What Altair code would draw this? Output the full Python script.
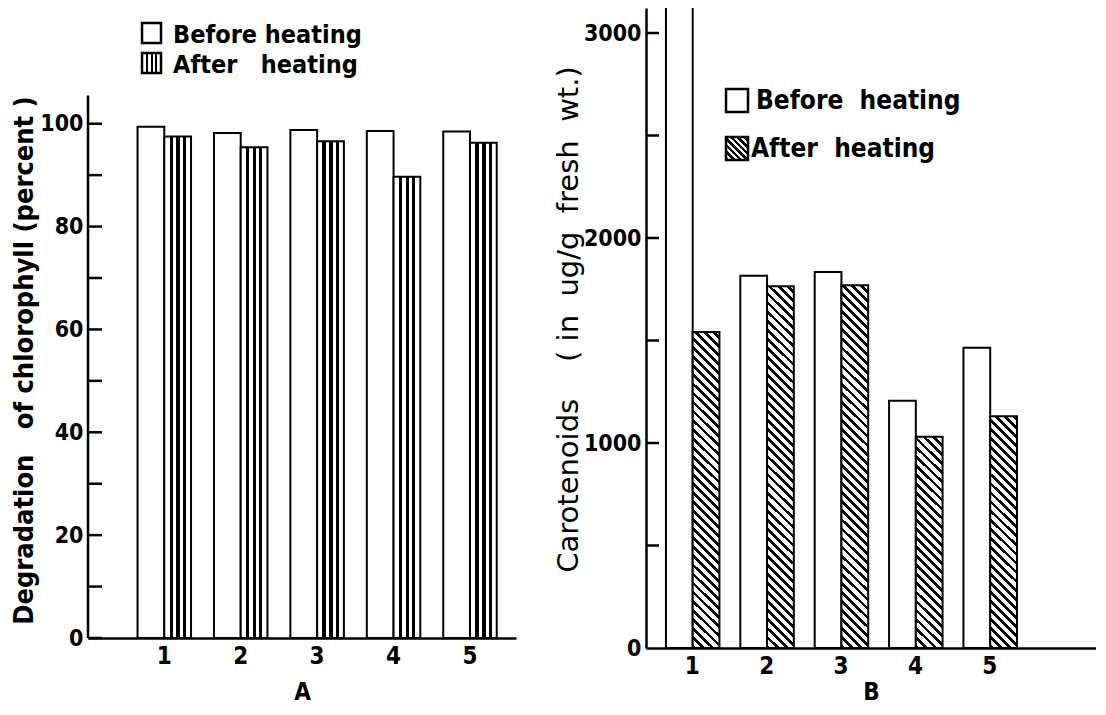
import math
import altair as alt

# ---------------- data ----------------
categories = ["1", "2", "3", "4", "5"]
series = ["Before heating", "After heating"]

# Panel A: degradation of chlorophyll (percent)
chl_before = [99.4, 98.2, 98.8, 98.6, 98.5]
chl_after = [97.5, 95.4, 96.6, 89.7, 96.3]
chl_tick_values = [0, 10, 20, 30, 40, 50, 60, 70, 80, 90, 100]
chl_label_values = [0, 20, 40, 60, 80, 100]
chl_axis_top = 105.5
chl_domain_max = 122.5

# Panel B: carotenoids (ug/g fresh wt.) - first "before" bar runs off the top
car_before = [3400, 1816, 1834, 1206, 1465]
car_after = [1541, 1765, 1769, 1030, 1130]
car_tick_values = [500, 1000, 1500, 2000, 2500, 3000]
car_label_values = [0, 1000, 2000, 3000]
car_domain_max = 3122

NB = "\u00a0"
title_a = f"Degradation{NB}{NB} of chlorophyll (percent )"
title_b = f"Carotenoids{NB * 4}({NB}in{NB * 2}ug/g{NB * 2}fresh{NB * 2}wt.)"

# ---------------- layout ----------------
WA, HA = 428, 630
WB, HB = 450, 640
A_PI, A_PO, A_AL = 0.30, 0.45, 0.72
B_PI, B_PO, B_AL = 0.29, 0.67, 0.20
FONT = "'Liberation Sans Narrow', 'DejaVu Sans Condensed', 'DejaVu Sans'"
FONT_WIDE = "DejaVu Sans"


def vstripes():
    stops = [(0.0, "white"), (0.20, "white"), (0.20, "black"), (0.32, "black"), (0.32, "white"),
             (0.45, "white"), (0.45, "black"), (0.58, "black"), (0.58, "white"),
             (0.70, "white"), (0.70, "black"), (0.81, "black"), (0.81, "white"), (1.0, "white")]
    return {"gradient": "linear", "x1": 0, "y1": 0, "x2": 1, "y2": 0,
            "stops": [{"offset": o, "color": c} for o, c in stops]}


def hatch(w, h, period=6.4, ink=0.42):
    """diagonal (top-left to bottom-right) hatching as a linear gradient in bbox units"""
    r = h / w
    s = (1 + r) / (1 + r * r)
    n = (w + h) / (math.sqrt(2) * period)
    stops = []
    k = 0
    while k < n:
        t0 = k / n
        t1 = min((k + ink) / n, 1.0)
        t2 = min((k + 1) / n, 1.0)
        stops += [{"offset": t0, "color": "black"}, {"offset": t1, "color": "black"},
                  {"offset": t1, "color": "white"}, {"offset": t2, "color": "white"}]
        k += 1
    return {"gradient": "linear", "x1": 0, "y1": 1, "x2": s, "y2": 1 - r * s, "stops": stops}


# ---------------- panel A ----------------
a_rows = []
for c, vb, va in zip(categories, chl_before, chl_after):
    a_rows.append({"cat": c, "series": series[0], "value": vb})
    a_rows.append({"cat": c, "series": series[1], "value": va})

a_yscale = alt.Scale(domain=[0, chl_domain_max], nice=False, zero=True)
a_yaxis = alt.Axis(values=chl_label_values, format="d", title=title_a, titleY=352,
                   titleFontSize=27, domain=False, ticks=False, labelPadding=5, titlePadding=1,
                   labelFontSize=23, grid=False)

a_bars = alt.Chart(alt.Data(values=a_rows)).mark_bar(stroke="black", strokeWidth=2).encode(
    x=alt.X("cat:N", sort=categories,
            scale=alt.Scale(paddingInner=A_PI, paddingOuter=A_PO, align=A_AL),
            axis=alt.Axis(title="A", labelAngle=0, ticks=False, labelPadding=6, titlePadding=12,
                          labelFontSize=24, titleFontSize=24, domainWidth=2.5)),
    xOffset=alt.XOffset("series:N", sort=series),
    y=alt.Y("value:Q", scale=a_yscale, axis=a_yaxis),
    fill=alt.condition(alt.datum.series == series[1], alt.value(vstripes()), alt.value("white")),
)

a_ticks = alt.Chart(alt.Data(values=[{"value": v} for v in chl_tick_values])).mark_rule(
    color="black", strokeWidth=2.5).encode(
    y=alt.Y("value:Q", scale=a_yscale, axis=a_yaxis), x=alt.value(0), x2=alt.value(14))

a_spine = alt.Chart(alt.Data(values=[{"value": 0, "top": chl_axis_top}])).mark_rule(
    color="black", strokeWidth=2.5).encode(
    x=alt.value(0), y=alt.Y("value:Q", scale=a_yscale, axis=a_yaxis), y2="top:Q")

leg_a = [{"s": series[0]}]
leg_a2 = [{"s": series[1]}]
a_leg_box1 = alt.Chart(alt.Data(values=leg_a)).mark_rect(stroke="black", strokeWidth=2.5, fill="white").encode(
    x=alt.value(54), x2=alt.value(73), y=alt.value(15), y2=alt.value(35))
a_leg_box2 = alt.Chart(alt.Data(values=leg_a2)).mark_rect(stroke="black", strokeWidth=2.5).encode(
    x=alt.value(54), x2=alt.value(73), y=alt.value(45), y2=alt.value(65), fill=alt.value(vstripes()))
a_leg_txt1 = alt.Chart(alt.Data(values=leg_a)).mark_text(
    align="left", baseline="middle", font=FONT, fontSize=25, fontWeight="bold", color="black").encode(
    x=alt.value(85), y=alt.value(27), text="s:N")
a_leg_txt2 = alt.Chart(alt.Data(values=leg_a2)).mark_text(
    align="left", baseline="middle", font=FONT, fontSize=25, fontWeight="bold", color="black").encode(
    x=alt.value(85), y=alt.value(57), text=alt.value(f"After{NB}{NB} heating"))

panel_a = alt.layer(a_bars, a_ticks, a_spine, a_leg_box1, a_leg_box2, a_leg_txt1, a_leg_txt2).properties(
    width=WA, height=HA)

# ---------------- panel B ----------------
stepB = WB / (5 - B_PI + 2 * B_PO)
subw = stepB * (1 - B_PI) / 2
b_rows = []
for c, vb, va in zip(categories, car_before, car_after):
    b_rows.append({"cat": c, "series": series[0], "value": vb, "paint": "white"})
    hpx = min(va, car_domain_max) * HB / car_domain_max
    b_rows.append({"cat": c, "series": series[1], "value": va, "paint": hatch(subw, hpx)})

b_yscale = alt.Scale(domain=[0, car_domain_max], nice=False, zero=True)
b_yaxis = alt.Axis(values=car_label_values, format="d", title=title_b, titleY=311,
                   titleFont=FONT_WIDE, titleFontSize=29, titleFontWeight="normal",
                   domain=True, domainWidth=2.5, ticks=False, labelPadding=5, titlePadding=0,
                   labelFontSize=23, grid=False)

b_bars = alt.Chart(alt.Data(values=b_rows)).mark_bar(stroke="black", strokeWidth=2, clip=True).encode(
    x=alt.X("cat:N", sort=categories,
            scale=alt.Scale(paddingInner=B_PI, paddingOuter=B_PO, align=B_AL),
            axis=alt.Axis(title="B", labelAngle=0, ticks=False, labelPadding=6, titlePadding=2,
                          labelFontSize=24, titleFontSize=24, domainWidth=2.5)),
    xOffset=alt.XOffset("series:N", sort=series),
    y=alt.Y("value:Q", scale=b_yscale, axis=b_yaxis),
    fill=alt.Fill("paint:N", scale=None),
)

b_ticks = alt.Chart(alt.Data(values=[{"value": v} for v in car_tick_values])).mark_rule(
    color="black", strokeWidth=2.5).encode(
    y=alt.Y("value:Q", scale=b_yscale, axis=b_yaxis), x=alt.value(0), x2=alt.value(13))

leg_b = [{"s": series[0]}]
leg_b2 = [{"s": series[1]}]
b_leg_box1 = alt.Chart(alt.Data(values=leg_b)).mark_rect(stroke="black", strokeWidth=2.5, fill="white").encode(
    x=alt.value(80), x2=alt.value(102), y=alt.value(81), y2=alt.value(104))
b_leg_box2 = alt.Chart(alt.Data(values=leg_b2)).mark_rect(stroke="black", strokeWidth=2.5).encode(
    x=alt.value(80), x2=alt.value(102), y=alt.value(129), y2=alt.value(152), fill=alt.value(hatch(22, 23, 4.6, 0.55)))
b_leg_txt1 = alt.Chart(alt.Data(values=leg_b)).mark_text(
    align="left", baseline="middle", font=FONT, fontSize=26, fontWeight="bold", color="black").encode(
    x=alt.value(110), y=alt.value(93), text=alt.value(f"Before{NB} heating"))
b_leg_txt2 = alt.Chart(alt.Data(values=leg_b2)).mark_text(
    align="left", baseline="middle", font=FONT, fontSize=26, fontWeight="bold", color="black").encode(
    x=alt.value(105), y=alt.value(141), text=alt.value(f"After{NB} heating"))

panel_b = alt.layer(b_bars, b_ticks, b_leg_box1, b_leg_box2, b_leg_txt1, b_leg_txt2).properties(
    width=WB, height=HB)

chart = alt.hconcat(panel_a, panel_b, spacing=38).properties(
    padding={"left": 2, "top": 0, "right": 0, "bottom": 0}
).configure(background="white").configure_view(stroke=None).configure_axis(
    labelFont=FONT, labelFontSize=23, labelFontWeight="bold", labelColor="black",
    titleFont=FONT, titleFontSize=24, titleFontWeight="bold", titleColor="black",
    domainColor="black", grid=False)

chart.save("out.html", embed_options={"renderer": "svg", "actions": False})
